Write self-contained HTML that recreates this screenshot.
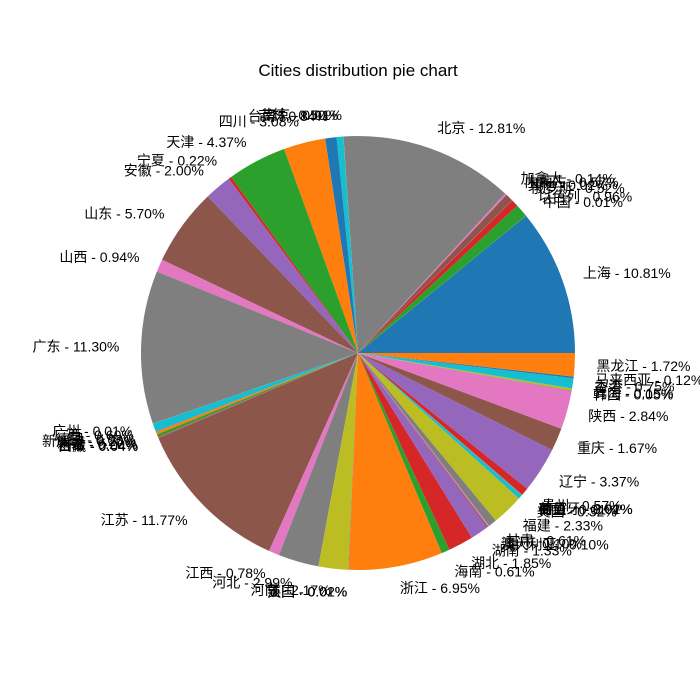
<!DOCTYPE html>
<html><head><meta charset="utf-8"><style>
html,body{margin:0;padding:0;background:#fff;}
svg{display:block;font-family:"Liberation Sans","Noto Sans CJK SC",sans-serif;}
</style></head><body>
<svg id="chart" width="700" height="700" viewBox="0 0 700 700">
<text x="358" y="76" text-anchor="middle" font-size="17" fill="#000">Cities distribution pie chart</text>
<g id="slices"></g>
<g id="labels"></g>
</svg>
<script>
const categories = ["上海","中国","以色列","俄罗斯","其他","内蒙古","加拿大","北京","南京","吉林","台湾","四川","天津","宁夏","安徽","山东","山西","广东","广州","广西","德国","新加坡","新疆","日本","西藏","江苏","江西","河北","河南","法国","英国","浙江","海南","湖北","湖南","澳大利亚","澳门","甘肃","福建","美国","荷兰","葡萄牙","西班牙","贵州","辽宁","重庆","陕西","韩国","青海","香港","马来西亚","黑龙江"];
const values = [10.81,0.01,0.96,0.52,0.02,0.57,0.14,12.81,0.01,0.50,0.84,3.08,4.37,0.22,2.00,5.70,0.94,11.30,0.01,0.60,0.03,0.20,0.20,0.04,0.04,11.77,0.78,2.99,2.17,0.01,0.02,6.95,0.61,1.85,1.33,0.10,0.10,0.61,2.33,0.32,0.01,0.02,0.01,0.57,3.37,1.67,2.84,0.05,0.15,0.75,0.12,1.72];
const colors = ["#1f77b4","#ff7f0e","#2ca02c","#d62728","#9467bd","#8c564b","#e377c2","#7f7f7f","#bcbd22","#17becf"];
const cx = 358, cy = 353, r = 217;
const NS = "http://www.w3.org/2000/svg";
const total = values.reduce((a,b)=>a+b,0);
function angleOf(cum){ return cum/total*2*Math.PI; }
const gS = document.getElementById('slices'), gL = document.getElementById('labels');
let cum = 0;
values.forEach((v,i)=>{
  const a0 = angleOf(cum), a1 = angleOf(cum+v); cum += v;
  const x0 = cx + r*Math.cos(a0), y0 = cy - r*Math.sin(a0);
  const x1 = cx + r*Math.cos(a1), y1 = cy - r*Math.sin(a1);
  const large = (a1-a0) > Math.PI ? 1 : 0;
  const p = document.createElementNS(NS,'path');
  p.setAttribute('d', `M${cx},${cy} L${x0},${y0} A${r},${r} 0 ${large} 0 ${x1},${y1} Z`);
  p.setAttribute('fill', colors[i%10]);
  
  
  gS.appendChild(p);
  const am = (a0+a1)/2;
  const lx = cx + 1.1*r*Math.cos(am), ly = cy - 1.1*r*Math.sin(am);
  const t = document.createElementNS(NS,'text');
  t.setAttribute('x', lx); t.setAttribute('y', ly);
  t.setAttribute('text-anchor', Math.cos(am) >= 0 ? 'start' : 'end');
  t.setAttribute('dominant-baseline', 'central');
  t.setAttribute('font-size', '14');
  t.setAttribute('fill', '#000');
  
  
  t.textContent = categories[i] + ' - ' + v.toFixed(2) + '%';
  gL.appendChild(t);
});
</script>
</body></html>
